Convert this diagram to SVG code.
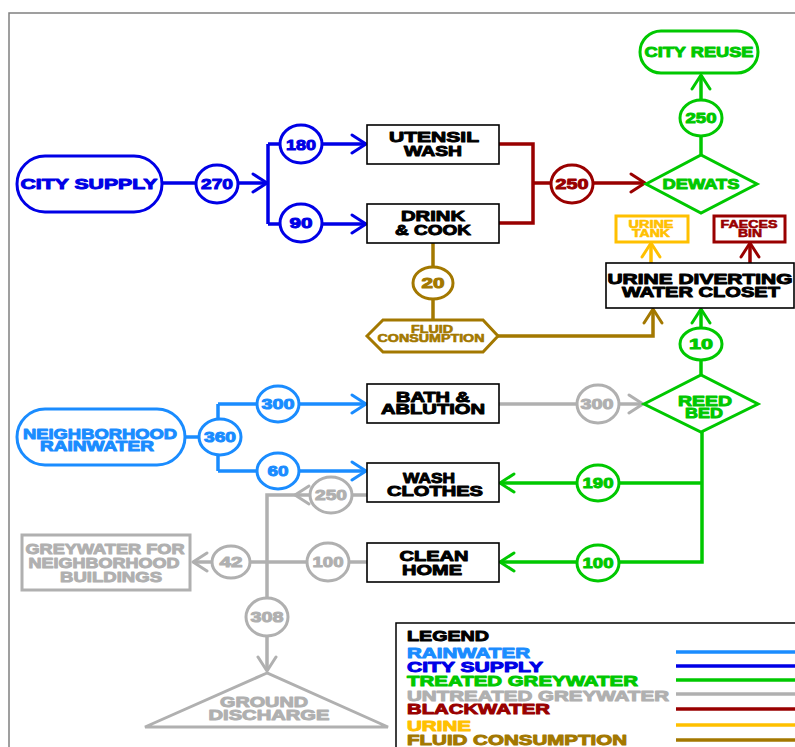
<svg xmlns="http://www.w3.org/2000/svg" width="795" height="747" viewBox="0 0 795 747">
<style>
text{font-family:"Liberation Sans",Arial,sans-serif;font-weight:700;font-size:15.5px;text-anchor:middle;stroke-width:1;stroke-linejoin:round}
.sm{font-size:10.5px;stroke-width:0.6}
.lg{text-anchor:start}
.tk{fill:#000;stroke:#000}
.tb{fill:#0000e6;stroke:#0000e6}
.tl{fill:#1a8cff;stroke:#1a8cff}
.tg{fill:#00c800;stroke:#00c800}
.tgr{fill:#b0b0b0;stroke:#b0b0b0}
.tr{fill:#990000;stroke:#990000}
.ty{fill:#ffc000;stroke:#ffc000}
.tbr{fill:#a37800;stroke:#a37800}
.c{fill:none;stroke-width:3.5;stroke-linejoin:miter}
.n{fill:#fff;stroke-width:3}
.box{fill:#fff;stroke:#000;stroke-width:1.6}
.b{stroke:#0000e6}.l{stroke:#1a8cff}.g{stroke:#00c800}.gr{stroke:#b0b0b0}.r{stroke:#990000}.y{stroke:#ffc000}.br{stroke:#a37800}
.ah{fill:none;stroke-width:3;stroke-linecap:round;stroke-linejoin:round}
</style>
<defs>
<marker id="mb" markerUnits="userSpaceOnUse" viewBox="-16 -11 18 22" refX="0" refY="0" markerWidth="18" markerHeight="22" orient="auto"><path d="M-14,-9 L0,0 L-14,9" class="ah" stroke="#0000e6"/></marker>
<marker id="ml" markerUnits="userSpaceOnUse" viewBox="-16 -11 18 22" refX="0" refY="0" markerWidth="18" markerHeight="22" orient="auto"><path d="M-14,-9 L0,0 L-14,9" class="ah" stroke="#1a8cff"/></marker>
<marker id="mg" markerUnits="userSpaceOnUse" viewBox="-16 -11 18 22" refX="0" refY="0" markerWidth="18" markerHeight="22" orient="auto"><path d="M-14,-9 L0,0 L-14,9" class="ah" stroke="#00c800"/></marker>
<marker id="mgr" markerUnits="userSpaceOnUse" viewBox="-16 -11 18 22" refX="0" refY="0" markerWidth="18" markerHeight="22" orient="auto"><path d="M-14,-9 L0,0 L-14,9" class="ah" stroke="#b0b0b0"/></marker>
<marker id="mr" markerUnits="userSpaceOnUse" viewBox="-16 -11 18 22" refX="0" refY="0" markerWidth="18" markerHeight="22" orient="auto"><path d="M-14,-9 L0,0 L-14,9" class="ah" stroke="#990000"/></marker>
<marker id="my" markerUnits="userSpaceOnUse" viewBox="-16 -11 18 22" refX="0" refY="0" markerWidth="18" markerHeight="22" orient="auto"><path d="M-14,-9 L0,0 L-14,9" class="ah" stroke="#ffc000"/></marker>
<marker id="mbr" markerUnits="userSpaceOnUse" viewBox="-16 -11 18 22" refX="0" refY="0" markerWidth="18" markerHeight="22" orient="auto"><path d="M-14,-9 L0,0 L-14,9" class="ah" stroke="#a37800"/></marker>
</defs>
<rect width="795" height="747" fill="#fff"/>
<path d="M9,747 V13 H795" fill="none" stroke="#808080" stroke-width="1.5"/>

<g id="connectors">
<path class="c b" d="M162,183 H267" marker-end="url(#mb)"/>
<path class="c b" d="M268,144 V224"/>
<path class="c b" d="M268,144 H366" marker-end="url(#mb)"/>
<path class="c b" d="M268,224 H366" marker-end="url(#mb)"/>
<path class="c r" d="M499,144 H533 V223 H499"/>
<path class="c r" d="M533,183 H645" marker-end="url(#mr)"/>
<path class="c g" d="M701,155 V75" marker-end="url(#mg)"/>
<path class="c y" d="M651,263 V243" marker-end="url(#my)"/>
<path class="c r" d="M750,263 V243" marker-end="url(#mr)"/>
<path class="c br" d="M433,243 V320"/>
<path class="c br" d="M498,336 H653 V309" marker-end="url(#mbr)"/>
<path class="c g" d="M701,375 V309" marker-end="url(#mg)"/>
<path class="c gr" d="M499,404 H643" marker-end="url(#mgr)"/>
<path class="c g" d="M702,432 V562 H500" marker-end="url(#mg)"/>
<path class="c g" d="M702,483 H500" marker-end="url(#mg)"/>
<path class="c l" d="M186,437 H200"/>
<path class="c l" d="M218,404 V471"/>
<path class="c l" d="M218,404 H366" marker-end="url(#ml)"/>
<path class="c l" d="M218,471 H366" marker-end="url(#ml)"/>
<path class="c gr" d="M367,495 H267 V671" marker-end="url(#mgr)"/>
<path class="ah gr" d="M309,486 L295,495 L309,504"/>
<path class="c gr" d="M367,562 H193" marker-end="url(#mgr)"/>
</g>

<g id="flow-labels">
<g id="f270"><ellipse class="n b" cx="217" cy="184" rx="21" ry="19"/><text class="tb" x="217" y="189" textLength="32" lengthAdjust="spacingAndGlyphs">270</text></g>
<g id="f180"><ellipse class="n b" cx="301" cy="144" rx="21" ry="19"/><text class="tb" x="301" y="150" textLength="30" lengthAdjust="spacingAndGlyphs">180</text></g>
<g id="f90"><ellipse class="n b" cx="301" cy="223" rx="21" ry="19"/><text class="tb" x="301" y="228" textLength="23" lengthAdjust="spacingAndGlyphs">90</text></g>
<g id="f250r"><ellipse class="n r" cx="572" cy="184" rx="21" ry="19"/><text class="tr" x="572" y="189" textLength="33" lengthAdjust="spacingAndGlyphs">250</text></g>
<g id="f250g"><ellipse class="n g" cx="701" cy="118" rx="21" ry="18"/><text class="tg" x="701" y="123" textLength="31" lengthAdjust="spacingAndGlyphs">250</text></g>
<g id="f20"><ellipse class="n br" cx="433" cy="283" rx="20" ry="16"/><text class="tbr" x="433" y="288" textLength="23" lengthAdjust="spacingAndGlyphs">20</text></g>
<g id="f10"><ellipse class="n g" cx="701" cy="344" rx="21" ry="16"/><text class="tg" x="701" y="349" textLength="24" lengthAdjust="spacingAndGlyphs">10</text></g>
<g id="f300g"><ellipse class="n gr" cx="598" cy="404" rx="21" ry="19"/><text class="tgr" x="597" y="409" textLength="33" lengthAdjust="spacingAndGlyphs">300</text></g>
<g id="f190"><ellipse class="n g" cx="598" cy="483" rx="21" ry="18"/><text class="tg" x="598" y="488" textLength="31" lengthAdjust="spacingAndGlyphs">190</text></g>
<g id="f100g"><ellipse class="n g" cx="598" cy="563" rx="21" ry="18"/><text class="tg" x="598" y="568" textLength="31" lengthAdjust="spacingAndGlyphs">100</text></g>
<g id="f360"><ellipse class="n l" cx="220" cy="437" rx="21" ry="18"/><text class="tl" x="220" y="442" textLength="32" lengthAdjust="spacingAndGlyphs">360</text></g>
<g id="f300b"><ellipse class="n l" cx="278" cy="404" rx="21" ry="18"/><text class="tl" x="278" y="409" textLength="33" lengthAdjust="spacingAndGlyphs">300</text></g>
<g id="f60"><ellipse class="n l" cx="278" cy="471" rx="21" ry="18"/><text class="tl" x="278" y="476" textLength="21" lengthAdjust="spacingAndGlyphs">60</text></g>
<g id="f250gr"><ellipse class="n gr" cx="331" cy="495" rx="21" ry="18"/><text class="tgr" x="331" y="500" textLength="32" lengthAdjust="spacingAndGlyphs">250</text></g>
<g id="f100gr"><ellipse class="n gr" cx="328" cy="562" rx="21" ry="19"/><text class="tgr" x="328" y="567" textLength="31" lengthAdjust="spacingAndGlyphs">100</text></g>
<g id="f42"><ellipse class="n gr" cx="231" cy="562" rx="19" ry="16"/><text class="tgr" x="231" y="567" textLength="23" lengthAdjust="spacingAndGlyphs">42</text></g>
<g id="f308"><ellipse class="n gr" cx="267" cy="617" rx="21" ry="19"/><text class="tgr" x="267" y="622" textLength="33" lengthAdjust="spacingAndGlyphs">308</text></g>
</g>

<g id="city-supply"><rect class="n b" x="17" y="156" width="145" height="56" rx="28"/><text class="tb" x="89" y="189" textLength="137" lengthAdjust="spacingAndGlyphs">CITY SUPPLY</text></g>
<g id="utensil-wash"><rect class="box" x="367" y="125" width="132" height="39"/><text class="tk" x="434" y="142" textLength="90" lengthAdjust="spacingAndGlyphs">UTENSIL</text><text class="tk" x="433" y="156" textLength="58" lengthAdjust="spacingAndGlyphs">WASH</text></g>
<g id="drink-cook"><rect class="box" x="367" y="204" width="132" height="39"/><text class="tk" x="433" y="221" textLength="64" lengthAdjust="spacingAndGlyphs">DRINK</text><text class="tk" x="433" y="235" textLength="76" lengthAdjust="spacingAndGlyphs">&amp; COOK</text></g>
<g id="dewats"><polygon class="n g" points="646,184 701,155 757,184 701,213"/><text class="tg" x="701" y="189" textLength="77" lengthAdjust="spacingAndGlyphs">DEWATS</text></g>
<g id="city-reuse"><rect class="n g" x="640" y="31" width="118" height="42" rx="21"/><text class="tg" x="699" y="57" textLength="109" lengthAdjust="spacingAndGlyphs">CITY REUSE</text></g>
<g id="urine-tank"><rect class="n y" x="616" y="216" width="72" height="26"/><text class="ty sm" x="651" y="228" textLength="45" lengthAdjust="spacingAndGlyphs">URINE</text><text class="ty sm" x="651" y="237" textLength="38" lengthAdjust="spacingAndGlyphs">TANK</text></g>
<g id="faeces-bin"><rect class="n r" x="714" y="216" width="71" height="26"/><text class="tr sm" x="749" y="228" textLength="57" lengthAdjust="spacingAndGlyphs">FAECES</text><text class="tr sm" x="750" y="237" textLength="24" lengthAdjust="spacingAndGlyphs">BIN</text></g>
<g id="udwc"><rect class="box" x="606" y="263" width="188" height="45"/><text class="tk" x="700" y="284" textLength="185" lengthAdjust="spacingAndGlyphs">URINE DIVERTING</text><text class="tk" x="701" y="297" textLength="158" lengthAdjust="spacingAndGlyphs">WATER CLOSET</text></g>
<g id="fluid-consumption"><polygon class="n br" points="367,336 383,320 483,320 498,336 483,352 383,352"/><text class="tbr sm" x="432" y="333" textLength="42" lengthAdjust="spacingAndGlyphs">FLUID</text><text class="tbr sm" x="431" y="342" textLength="107" lengthAdjust="spacingAndGlyphs">CONSUMPTION</text></g>
<g id="neighborhood-rainwater"><rect class="n l" x="17" y="409" width="168" height="56" rx="28"/><text class="tl" x="100" y="439" textLength="154" lengthAdjust="spacingAndGlyphs">NEIGHBORHOOD</text><text class="tl" x="97" y="451" textLength="114" lengthAdjust="spacingAndGlyphs">RAINWATER</text></g>
<g id="bath-ablution"><rect class="box" x="367" y="384" width="132" height="39"/><text class="tk" x="433" y="402" textLength="74" lengthAdjust="spacingAndGlyphs">BATH &amp;</text><text class="tk" x="433" y="414" textLength="104" lengthAdjust="spacingAndGlyphs">ABLUTION</text></g>
<g id="reed-bed"><polygon class="n g" points="644,404 701,375 758,404 701,432"/><text class="tg" x="705" y="406" textLength="54" lengthAdjust="spacingAndGlyphs">REED</text><text class="tg" x="704" y="418" textLength="38" lengthAdjust="spacingAndGlyphs">BED</text></g>
<g id="wash-clothes"><rect class="box" x="367" y="463" width="132" height="39"/><text class="tk" x="429" y="483" textLength="52" lengthAdjust="spacingAndGlyphs">WASH</text><text class="tk" x="435" y="496" textLength="96" lengthAdjust="spacingAndGlyphs">CLOTHES</text></g>
<g id="clean-home"><rect class="box" x="367" y="543" width="132" height="39"/><text class="tk" x="434" y="561" textLength="69" lengthAdjust="spacingAndGlyphs">CLEAN</text><text class="tk" x="432" y="575" textLength="60" lengthAdjust="spacingAndGlyphs">HOME</text></g>
<g id="greywater-neighborhood"><rect class="n gr" x="22" y="535" width="168" height="55"/><text class="tgr" x="105" y="554" textLength="159" lengthAdjust="spacingAndGlyphs">GREYWATER FOR</text><text class="tgr" x="104" y="568" textLength="151" lengthAdjust="spacingAndGlyphs">NEIGHBORHOOD</text><text class="tgr" x="111" y="582" textLength="102" lengthAdjust="spacingAndGlyphs">BUILDINGS</text></g>
<g id="ground-discharge"><polygon class="n gr" points="267,673 145,727 388,727"/><text class="tgr" x="264" y="707" textLength="88" lengthAdjust="spacingAndGlyphs">GROUND</text><text class="tgr" x="269" y="720" textLength="121" lengthAdjust="spacingAndGlyphs">DISCHARGE</text></g>

<g id="legend">
<rect x="396" y="623" width="410" height="130" fill="#fff" stroke="#000" stroke-width="1.5"/>
<text class="tk lg" x="407" y="641" textLength="82" lengthAdjust="spacingAndGlyphs">LEGEND</text>
<text class="tl lg" x="407" y="658" textLength="123" lengthAdjust="spacingAndGlyphs">RAINWATER</text>
<text class="tb lg" x="407" y="672" textLength="136" lengthAdjust="spacingAndGlyphs">CITY SUPPLY</text>
<text class="tg lg" x="407" y="686" textLength="231" lengthAdjust="spacingAndGlyphs">TREATED GREYWATER</text>
<text class="tgr lg" x="407" y="701" textLength="262" lengthAdjust="spacingAndGlyphs">UNTREATED GREYWATER</text>
<text class="tr lg" x="407" y="714" textLength="143" lengthAdjust="spacingAndGlyphs">BLACKWATER</text>
<text class="ty lg" x="407" y="731" textLength="64" lengthAdjust="spacingAndGlyphs">URINE</text>
<text class="tbr lg" x="407" y="745" textLength="220" lengthAdjust="spacingAndGlyphs">FLUID CONSUMPTION</text>
<path class="c l" d="M676,652 H795"/>
<path class="c b" d="M676,666 H795"/>
<path class="c g" d="M676,680 H795"/>
<path class="c gr" d="M676,694 H795"/>
<path class="c r" d="M676,709 H795"/>
<path class="c y" d="M676,725 H795"/>
<path class="c br" d="M676,740 H795"/>
</g>
</svg>
